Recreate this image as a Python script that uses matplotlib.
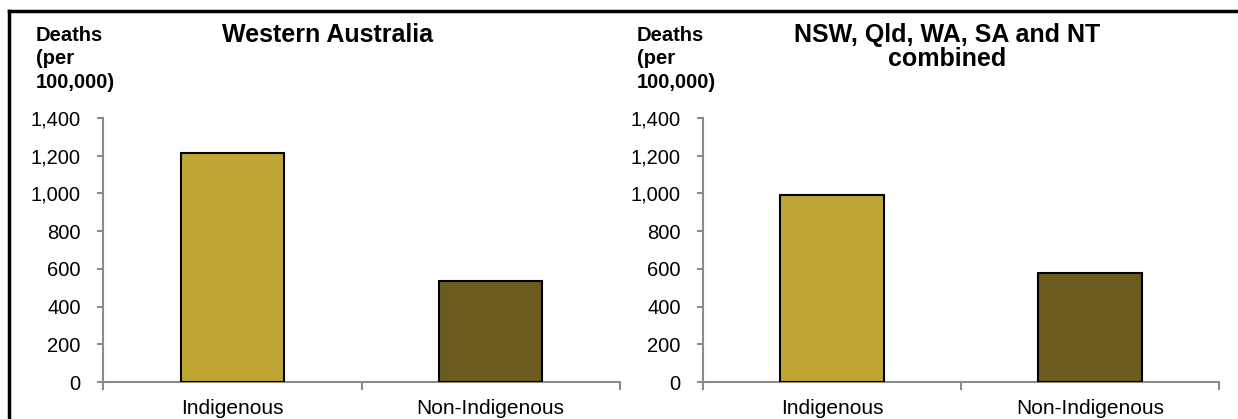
import matplotlib
matplotlib.use("Agg")
import matplotlib.pyplot as plt
from matplotlib.lines import Line2D
from matplotlib.ticker import FuncFormatter, MultipleLocator

plt.rcParams['font.family'] = ['Liberation Sans', 'DejaVu Sans']

categories = ["Indigenous", "Non-Indigenous"]
wa_values = [1214, 534]
combined_values = [992, 577]
titles = [["Western Australia"], ["NSW, Qld, WA, SA and NT", "combined"]]
ylabel_lines = ["Deaths", "(per", "100,000)"]
colors = ["#BFA634", "#6B5B1E"]

W, H = 1238, 419
fig = plt.figure(figsize=(W / 100, H / 100), dpi=100)

panels = [
    dict(vals=wa_values, title=titles[0], ax_l=103, ax_r=620, title_x=327, lab_x=36),
    dict(vals=combined_values, title=titles[1], ax_l=703, ax_r=1219, title_x=947, lab_x=637),
]
ax_top, ax_bot = 118, 382
axis_col = "#8C8C8C"

for p in panels:
    ax = fig.add_axes([p['ax_l'] / W, 1 - ax_bot / H, (p['ax_r'] - p['ax_l']) / W, (ax_bot - ax_top) / H])
    x = list(range(len(categories)))
    ax.bar(x, p['vals'], width=0.4, color=colors, edgecolor="black", linewidth=1.5, zorder=3)
    ax.set_xlim(-0.5, 1.5)
    ax.set_ylim(0, 1400)
    ax.yaxis.set_major_locator(MultipleLocator(200))
    ax.yaxis.set_major_formatter(FuncFormatter(lambda v, pos: f"{int(v):,}"))
    ax.set_xticks([-0.5, 0.5, 1.5])
    ax.set_xticklabels([])
    ax.set_xticks(x, minor=True)
    ax.set_xticklabels(categories, minor=True)
    ax.tick_params(axis='x', which='minor', length=0, labelsize=15, pad=12)
    ax.tick_params(axis='x', which='major', length=6, width=1.5, color=axis_col, direction='out')
    ax.tick_params(axis='y', length=4, width=1.5, color=axis_col, labelsize=14.5, pad=12)
    for s in ['top', 'right']:
        ax.spines[s].set_visible(False)
    for s in ['left', 'bottom']:
        ax.spines[s].set_color(axis_col)
        ax.spines[s].set_linewidth(1.5)
    for i, line in enumerate(p['title']):
        fig.text(p['title_x'] / W, 1 - (42 + 23.5 * i) / H, line, ha='center', va='baseline',
                 fontsize=18, fontweight='bold')
    for i, line in enumerate(ylabel_lines):
        fig.text(p['lab_x'] / W, 1 - (41 + 23.5 * i) / H, line, ha='left', va='baseline',
                 fontsize=14.5, fontweight='bold')

# outer frame (top and left edges)
fig.add_artist(Line2D([9 / W, 1.0], [1 - 11 / H, 1 - 11 / H], transform=fig.transFigure,
                      color='black', linewidth=2.5))
fig.add_artist(Line2D([9 / W, 9 / W], [0, 1 - 11 / H], transform=fig.transFigure,
                      color='black', linewidth=2.5))

fig.savefig("out.png", dpi=100)
